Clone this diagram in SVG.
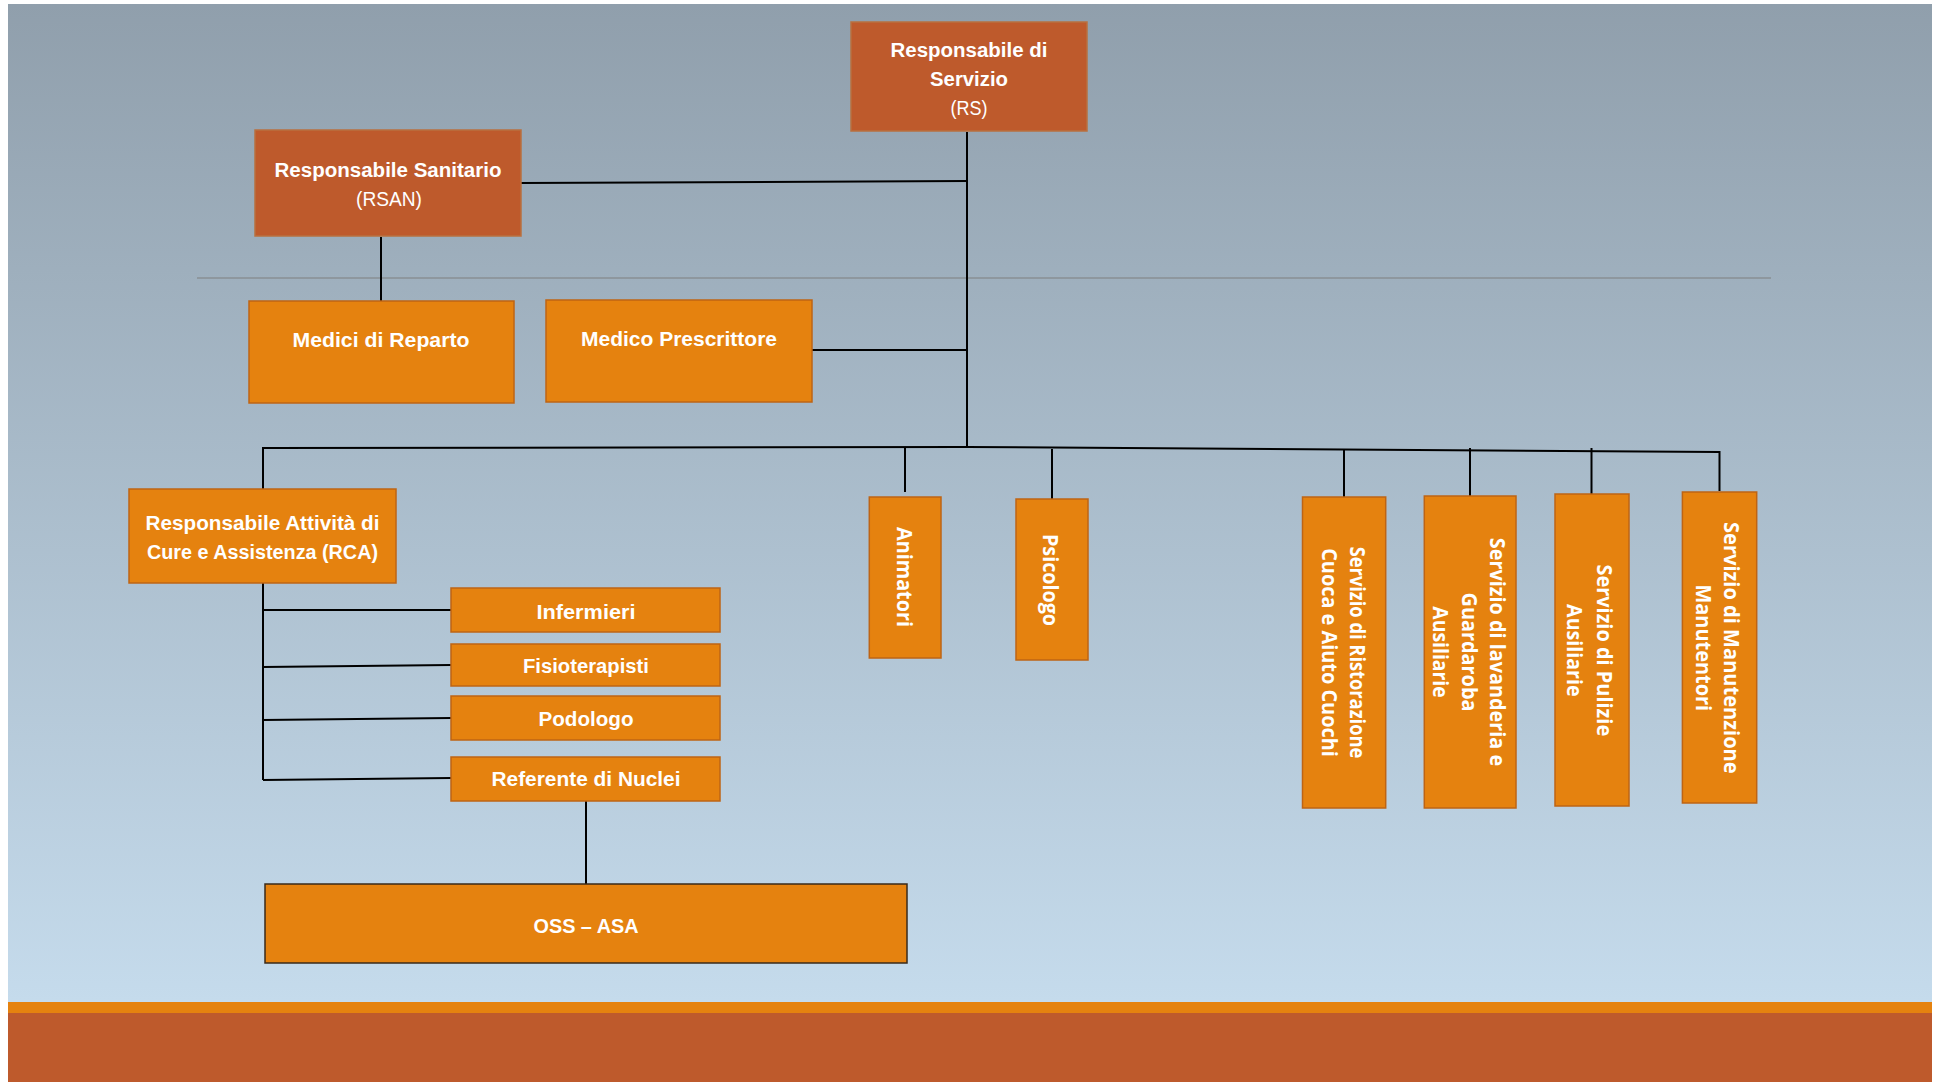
<svg xmlns="http://www.w3.org/2000/svg" width="1936" height="1082" viewBox="0 0 1936 1082">
<defs>
<linearGradient id="bg" x1="0" y1="0" x2="0" y2="1">
<stop offset="0" stop-color="#909FAC"/>
<stop offset="1" stop-color="#C5DBEC"/>
</linearGradient>
<style>
.dark{fill:#BE5A2C;stroke:#B9703F;stroke-width:1.5}
.org{fill:#E5820F;stroke:#BE6414;stroke-width:1.5}
.t{font-family:"Liberation Sans",Arial,sans-serif;font-size:20px;font-weight:bold;fill:#FFFFFF;text-anchor:middle}
.n{font-weight:normal}
.v{font-family:"Open Sans","DejaVu Sans",sans-serif;font-size:20.5px;font-weight:bold;fill:#FFFFFF;text-anchor:middle}
.c{fill:none;stroke:#000000;stroke-width:2}
</style>
</defs>
<rect x="0" y="0" width="1936" height="1082" fill="#FFFFFF"/>
<rect x="8" y="4" width="1924" height="998" fill="url(#bg)"/>
<rect x="8" y="1002" width="1924" height="11" fill="#E5820F"/>
<rect x="8" y="1013" width="1924" height="69" fill="#BE5A2C"/>
<line x1="197" y1="278" x2="1771" y2="278" stroke="#8E979E" stroke-width="2"/>
<g id="connectors">
<path class="c" d="M967,132 V447"/>
<path class="c" d="M521,183 L967,181"/>
<path class="c" d="M381,237 V301"/>
<path class="c" d="M812,350 H967"/>
<path class="c" d="M263,489 V448 L967,447 L1719.5,452 V491"/>
<path class="c" d="M905,448 V492"/>
<path class="c" d="M1052,449 V499"/>
<path class="c" d="M1344,450 V497"/>
<path class="c" d="M1470,448 V496"/>
<path class="c" d="M1591.5,448 V494"/>
<path class="c" d="M263,583 V780"/>
<path class="c" d="M263,610 H451"/>
<path class="c" d="M263,667 L451,665"/>
<path class="c" d="M263,720 L451,718"/>
<path class="c" d="M263,780 L451,778"/>
<path class="c" d="M586,801 V884"/>
</g>
<g id="rs">
<rect class="dark" x="851" y="22" width="236" height="109"/>
<text class="t" x="969" y="57" textLength="157" lengthAdjust="spacingAndGlyphs">Responsabile di</text>
<text class="t" x="969" y="86" textLength="78" lengthAdjust="spacingAndGlyphs">Servizio</text>
<text class="t n" x="969" y="115" textLength="37" lengthAdjust="spacingAndGlyphs">(RS)</text>
</g>
<g id="rsan">
<rect class="dark" x="255" y="130" width="266" height="106"/>
<text class="t" x="388" y="177" textLength="227" lengthAdjust="spacingAndGlyphs">Responsabile Sanitario</text>
<text class="t n" x="389" y="206" textLength="66" lengthAdjust="spacingAndGlyphs">(RSAN)</text>
</g>
<g id="medici">
<rect class="org" x="249" y="301" width="265" height="102"/>
<text class="t" x="381" y="347" textLength="177" lengthAdjust="spacingAndGlyphs">Medici di Reparto</text>
</g>
<g id="medico">
<rect class="org" x="546" y="300" width="266" height="102"/>
<text class="t" x="679" y="346" textLength="196" lengthAdjust="spacingAndGlyphs">Medico Prescrittore</text>
</g>
<g id="rca">
<rect class="org" x="129" y="489" width="267" height="94"/>
<text class="t" x="262.5" y="530" textLength="234" lengthAdjust="spacingAndGlyphs">Responsabile Attività di</text>
<text class="t" x="262.5" y="559" textLength="231" lengthAdjust="spacingAndGlyphs">Cure e Assistenza (RCA)</text>
</g>
<g id="infermieri">
<rect class="org" x="451" y="588" width="269" height="44"/>
<text class="t" x="586" y="619" textLength="99" lengthAdjust="spacingAndGlyphs">Infermieri</text>
</g>
<g id="fisioterapisti">
<rect class="org" x="451" y="644" width="269" height="42"/>
<text class="t" x="586" y="673" textLength="126" lengthAdjust="spacingAndGlyphs">Fisioterapisti</text>
</g>
<g id="podologo">
<rect class="org" x="451" y="696" width="269" height="44"/>
<text class="t" x="586" y="726" textLength="95" lengthAdjust="spacingAndGlyphs">Podologo</text>
</g>
<g id="referente">
<rect class="org" x="451" y="757" width="269" height="44"/>
<text class="t" x="586" y="786" textLength="189" lengthAdjust="spacingAndGlyphs">Referente di Nuclei</text>
</g>
<g id="oss">
<rect x="265" y="884" width="642" height="79" fill="#E5820F" stroke="#3A2A1A" stroke-width="1.5"/>
<text class="t" x="586" y="933" textLength="105" lengthAdjust="spacingAndGlyphs">OSS – ASA</text>
</g>
<g id="animatori">
<rect class="org" x="869.3" y="497" width="71.7" height="161"/>
<g transform="translate(905.2,577) rotate(90)"><text class="v" x="0" y="8.5" style="font-size:21px" textLength="100" lengthAdjust="spacingAndGlyphs">Animatori</text></g>
</g>
<g id="psicologo">
<rect class="org" x="1016" y="499" width="72" height="161"/>
<g transform="translate(1052,580) rotate(90)"><text class="v" x="0" y="9" style="font-size:21px" textLength="92" lengthAdjust="spacingAndGlyphs">Psicologo</text></g>
</g>
<g id="ristorazione">
<rect class="org" x="1302.5" y="497" width="83.2" height="311"/>
<g transform="translate(1344.1,652.5) rotate(90)"><text class="v" x="0" y="-5.9" textLength="211.6" lengthAdjust="spacingAndGlyphs">Servizio di Ristorazione</text><text class="v" x="0" y="21.8" textLength="208.7" lengthAdjust="spacingAndGlyphs">Cuoca e Aiuto Cuochi</text></g>
</g>
<g id="lavanderia">
<rect class="org" x="1424.3" y="496" width="91.7" height="312"/>
<g transform="translate(1470.2,652) rotate(90)"><text class="v" x="0" y="-19.5" textLength="228.3" lengthAdjust="spacingAndGlyphs">Servizio di lavanderia e</text><text class="v" x="0" y="8.5" textLength="119" lengthAdjust="spacingAndGlyphs">Guardaroba</text><text class="v" x="0" y="37.5" textLength="91.3" lengthAdjust="spacingAndGlyphs">Ausiliarie</text></g>
</g>
<g id="pulizie">
<rect class="org" x="1555" y="494" width="74" height="312"/>
<g transform="translate(1592,650.3) rotate(90)"><text class="v" x="0" y="-4.7" textLength="171.7" lengthAdjust="spacingAndGlyphs">Servizio di Pulizie</text><text class="v" x="0" y="24.7" textLength="92.4" lengthAdjust="spacingAndGlyphs">Ausiliarie</text></g>
</g>
<g id="manutenzione">
<rect class="org" x="1682.4" y="492" width="74.3" height="311"/>
<g transform="translate(1719.5,647.8) rotate(90)"><text class="v" x="0" y="-4.5" textLength="251.6" lengthAdjust="spacingAndGlyphs">Servizio di Manutenzione</text><text class="v" x="0" y="23.8" textLength="126.7" lengthAdjust="spacingAndGlyphs">Manutentori</text></g>
</g>
</svg>
